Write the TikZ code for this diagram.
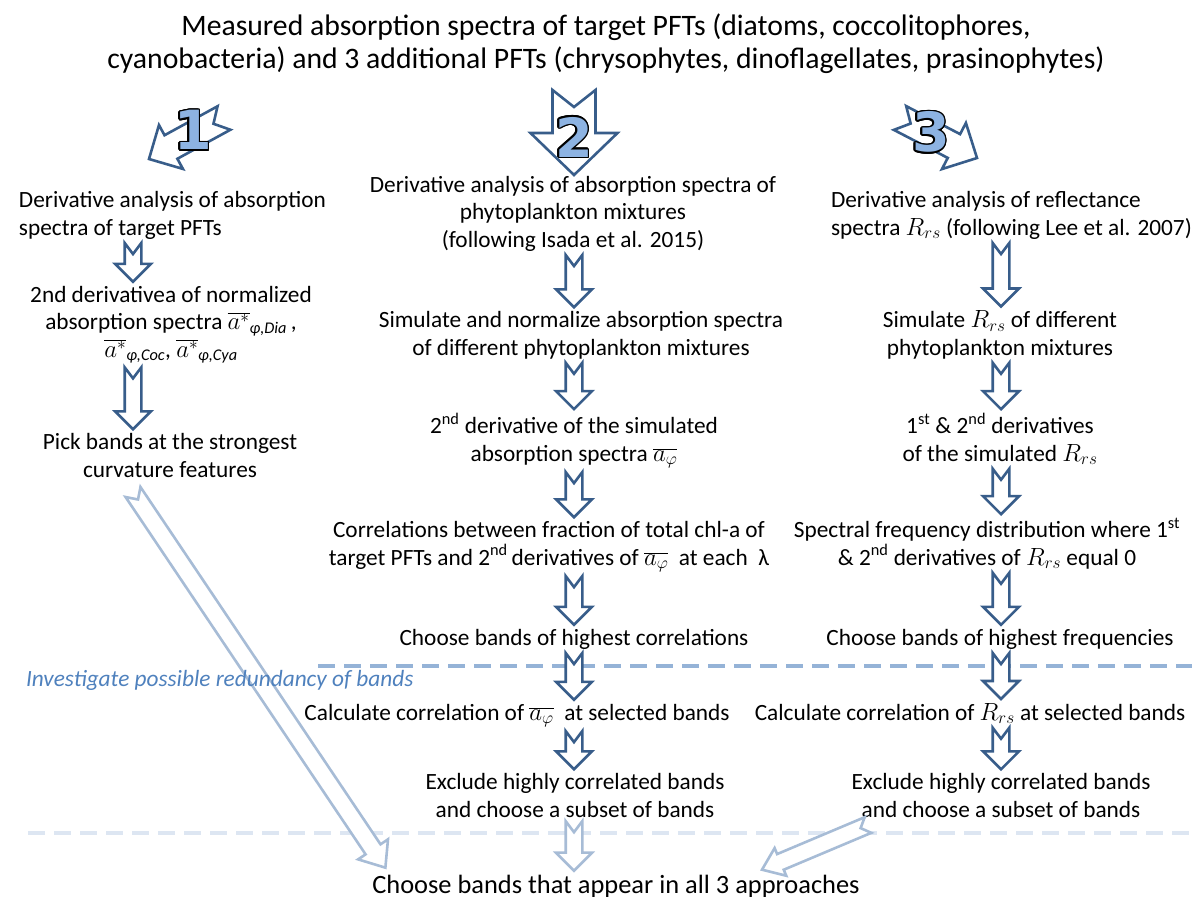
\documentclass[tikz,border=0pt]{standalone}
\usepackage{fontspec}
\setmainfont{Carlito}
\newfontfamily\digitfont{DejaVu Sans}
\usepackage{contour}
\contourlength{1.6pt}
\usetikzlibrary{calc}

\definecolor{arrblue}{RGB}{56,93,138}
\definecolor{paleblue}{RGB}{167,188,214}
\definecolor{dashblue}{RGB}{149,179,215}
\definecolor{dashpale}{RGB}{221,230,242}
\definecolor{noteblue}{RGB}{79,129,189}
\definecolor{digitblue}{RGB}{141,179,226}

\begin{document}
\begin{tikzpicture}[x=1pt, y=-1pt]
  \tikzset{txt/.style = {inner sep=0pt, outer sep=4pt, align=center, anchor=base,
      font=\fontsize{23.3}{27.5}\selectfont}}
  \tikzset{title/.style = {txt, font=\fontsize{29.7}{33}\selectfont}}
  \tikzset{digit/.style = {inner sep=0pt, font=\digitfont\bfseries\fontsize{54}{54}\selectfont}}
  \tikzset{arrW/.store in=\arrW, arrH/.store in=\arrH, arrA/.store in=\arrA, arrN/.store in=\arrN,
      arrW=8.3, arrH=18, arrA=18, arrN=11}
  \tikzset{flow/.style = {draw=arrblue, fill=white, line width=2.6pt, line join=miter,
      to path={let \p1=(\tikztostart), \p2=(\tikztotarget),
          \n1={atan2(\y2-\y1,\x2-\x1)}, \n2={veclen(\x2-\x1,\y2-\y1)-\arrA} in
        ($(\p1)+(\n1+90:\arrW pt)$) -- ($(\p1)+(\n1:\n2)+(\n1+90:\arrW pt)$)
        -- ($(\p1)+(\n1:\n2)+(\n1+90:\arrH pt)$) -- (\p2)
        -- ($(\p1)+(\n1:\n2)+(\n1-90:\arrH pt)$) -- ($(\p1)+(\n1:\n2)+(\n1-90:\arrW pt)$)
        -- ($(\p1)+(\n1-90:\arrW pt)$) -- ($(\p1)+(\n1:\arrN pt)$) -- cycle}}}
  \tikzset{paleflow/.style = {flow, draw=paleblue}}

  \useasboundingbox (0,0) rectangle (1192,897);

  % separators
  \draw[dashblue, line width=4pt, dash pattern=on 17pt off 9pt] (318,666) -- (1192,666);
  \draw[dashpale, line width=4pt, dash pattern=on 17pt off 9pt] (28,833) -- (1192,833);

  \node[title] (title) at (606,68) {Measured absorption spectra of target PFTs (diatoms, coccolitophores,\\
    cyanobacteria) and 3 additional PFTs (chrysophytes, dinoflagellates, prasinophytes)};

  % column axes
  \coordinate (colL) at (133,0);
  \coordinate (colM) at (574,0);
  \coordinate (colR) at (1001,0);

  % approach 1
  \node[txt, align=left, anchor=base west] (d1) at (15,235) {Derivative analysis of absorption\\spectra of target PFTs};
  \node[txt] (d2) at (171,357) {2nd derivativea of normalized\\
    absorption spectra $\overline{a^{*}}$\textsubscript{\textit{φ,Dia}}\,,\\
    $\overline{a^{*}}$\textsubscript{\textit{φ,Coc}}, $\overline{a^{*}}$\textsubscript{\textit{φ,Cya}}};
  \node[txt] (d3) at (170,477) {Pick bands at the strongest\\curvature features};

  % approach 2
  \node[txt] (m1) at (573,247) {Derivative analysis of absorption spectra of\\phytoplankton mixtures\\(following Isada et al. 2015)};
  \node[txt] (m2) at (581,355) {Simulate and normalize absorption spectra\\of different phytoplankton mixtures};
  \node[txt] (m3) at (574,461) {2\textsuperscript{nd} derivative of the simulated\\absorption spectra $\overline{a_{\varphi}}$};
  \node[txt] (m4) at (549,565) {Correlations between fraction of total chl-a of\\
    target PFTs and 2\textsuperscript{nd}\,derivatives of $\overline{a_{\varphi}}$\ \ at each\ \ λ};
  \node[txt] (m5) at (574,645) {Choose bands of highest correlations};
  \node[txt] (m6) at (517,720) {Calculate correlation of $\overline{a_{\varphi}}$\ \ at selected bands};
  \node[txt] (m7) at (575,817) {Exclude highly correlated bands\\and choose a subset of bands};

  % approach 3
  \node[txt, align=left, anchor=base west] (r1) at (827,235) {Derivative analysis of reflectance\\spectra $R_{rs}$ (following Lee et al. 2007)};
  \node[txt] (r2) at (1000,355) {Simulate $R_{rs}$ of different\\phytoplankton mixtures};
  \node[txt] (r3) at (1000,461) {1\textsuperscript{st} \& 2\textsuperscript{nd} derivatives\\of the simulated $R_{rs}$};
  \node[txt] (r4) at (987,565) {Spectral frequency distribution where 1\textsuperscript{st}\\
    \& 2\textsuperscript{nd} derivatives of $R_{rs}$ equal 0};
  \node[txt] (r5) at (1000,645) {Choose bands of highest frequencies};
  \node[txt] (r6) at (970,720) {Calculate correlation of $R_{rs}$ at selected bands};
  \node[txt] (r7) at (1001,817) {Exclude highly correlated bands\\and choose a subset of bands};

  \node[txt, font=\fontsize{26.4}{30}\selectfont] (fin) at (616,893) {Choose bands that appear in all 3 approaches};

  % big arrows from the title
  \coordinate (a1s) at (224,118);
  \coordinate (a1e) at (149,159);
  \coordinate (a2s) at (574,90);
  \coordinate (a2e) at (574,175);
  \coordinate (a3s) at (900,118);
  \coordinate (a3e) at (977,158);
  \draw[flow, arrW=13.4, arrH=25, arrA=25, arrN=12] (a1s) to (a1e);
  \draw[flow, arrW=21.5, arrH=43.5, arrA=42, arrN=17] (a2s) to (a2e);
  \draw[flow, arrW=13.4, arrH=26, arrA=26, arrN=12] (a3s) to (a3e);
  \node[digit] (n1) at (193,131) {\contour{black}{\textcolor{digitblue}{1}}};
  \node[digit] (n2) at (574,138) {\contour{black}{\textcolor{digitblue}{2}}};
  \node[digit] (n3) at (931,133) {\contour{black}{\textcolor{digitblue}{3}}};

  % steps
  \draw[flow] (colL |- d1.south) to (colL |- d2.north);
  \draw[flow] (colL |- d2.south) to (colL |- d3.north);
  \draw[flow] (colM |- m1.south) to (colM |- m2.north);
  \draw[flow] (colM |- m2.south) to (colM |- m3.north);
  \draw[flow] (colM |- m3.south) to (colM |- m4.north);
  \draw[flow] (colM |- m4.south) to (colM |- m5.north);
  \draw[flow] (colM |- m5.south) to (colM |- m6.north);
  \draw[flow] (colM |- m6.south) to (colM |- m7.north);
  \draw[flow] (colR |- r1.south) to (colR |- r2.north);
  \draw[flow] (colR |- r2.south) to (colR |- r3.north);
  \draw[flow] (colR |- r3.south) to (colR |- r4.north);
  \draw[flow] (colR |- r4.south) to (colR |- r5.north);
  \draw[flow] (colR |- r5.south) to (colR |- r6.north);
  \draw[flow] (colR |- r6.south) to (colR |- r7.north);

  % into the final choice
  \coordinate (t1) at (133,492);
  \coordinate (t3) at (868,825);
  \draw[paleflow, arrW=9, arrH=18, arrA=22, arrN=9] (t1) to ($(fin.north west)+(17,-3)$);
  \draw[paleflow] (colM |- m7.south) to (colM |- fin.north);
  \draw[paleflow, arrW=8.5, arrH=15, arrA=20, arrN=8] (t3) to ($(fin.north)+(146,-1)$);

  \node[txt, anchor=base west, text=noteblue, font=\fontsize{23.3}{27.5}\selectfont\itshape] (note) at (22,686) {Investigate possible redundancy of bands};
\end{tikzpicture}
\end{document}
